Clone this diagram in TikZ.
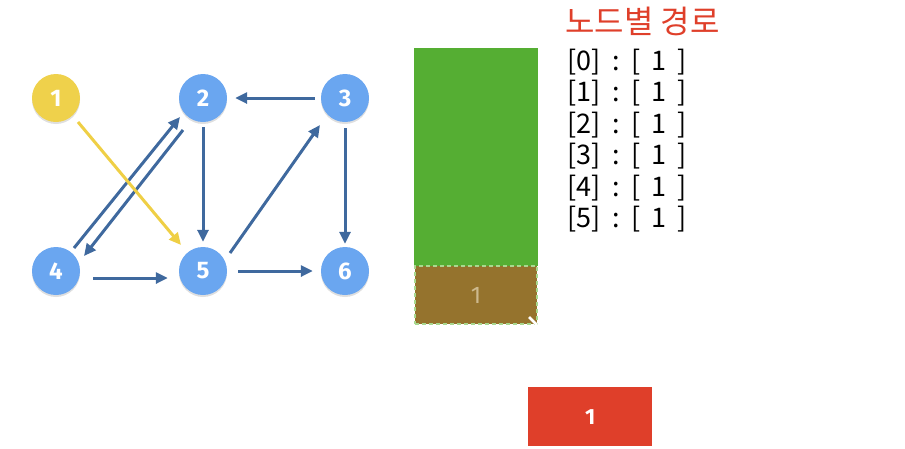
\documentclass[tikz,border=0pt]{standalone}
\usepackage{fontspec}
\setmainfont{Fira Sans}
\newfontfamily\kofont{Noto Sans CJK KR}
\usetikzlibrary{arrows.meta,shadows}
\definecolor{NodeBlue}{HTML}{6AA6F0}
\definecolor{NodeYellow}{HTML}{EFD14B}
\definecolor{EdgeBlue}{HTML}{3F699E}
\definecolor{EdgeYellow}{HTML}{EFCF45}
\definecolor{StackGreen}{HTML}{55AE33}
\definecolor{StackBrown}{HTML}{95732D}
\definecolor{StackDash}{HTML}{A9D88F}
\definecolor{StackText}{HTML}{CDB98E}
\definecolor{TitleRed}{HTML}{DF3F2A}

\begin{document}
\begin{tikzpicture}[
    x=1pt,y=-1pt,
    vertex/.style={circle,minimum size=48pt,inner sep=0pt,fill=NodeBlue,text=white,font=\fontsize{24}{24}\selectfont\bfseries,drop shadow={opacity=0.25,shadow xshift=0pt,shadow yshift=-2pt}},
    edge/.style={draw=EdgeBlue,line width=3pt,-{Triangle[length=12pt,width=11pt]}},
    pathline/.style={anchor=west,inner sep=0pt,font=\kofont\fontsize{27}{27}\selectfont}
  ]
    \useasboundingbox (0,0) rectangle (905,448);

    % graph
    \node[vertex,fill=NodeYellow] (n1) at (56,98) {1};
    \node[vertex] (n2) at (203,98) {2};
    \node[vertex] (n3) at (345,98) {3};
    \node[vertex] (n4) at (56,271) {4};
    \node[vertex] (n5) at (203,271) {5};
    \node[vertex] (n6) at (345,271) {6};

    \draw[edge,shorten <=6pt,shorten >=8pt] (n3) -- (n2);
    \draw[edge,shorten <=5pt,shorten >=5pt] (n2) -- (n5);
    \draw[edge,shorten <=6pt,shorten >=3pt] (n3) -- (n6);
    \draw[edge,shorten <=13pt,shorten >=11pt] ([yshift=-7pt]n4.east) -- ([yshift=-7pt]n5.west);
    \draw[edge,shorten <=11pt,shorten >=8pt] (n5) -- (n6);
    \draw[edge] ([shift={(27,-18)}]n5.center) -- ([shift={(-25,27)}]n3.center);
    \draw[edge] ([shift={(18,-23)}]n4.center) -- ([shift={(-23,19)}]n2.center);
    \draw[edge] ([shift={(-20,32)}]n2.center) -- ([shift={(28,-15)}]n4.center);
    \draw[edge,draw=EdgeYellow] ([shift={(22,24)}]n1.center) -- ([shift={(-22,-26)}]n5.center);

    % stack
    \fill[StackGreen] (414,48) rectangle (538,266);
    \node[draw=StackDash,fill=StackBrown,dash pattern=on 4pt off 3pt,line width=2.5pt,outer sep=0pt,
      minimum width=122pt,minimum height=58pt,anchor=north west,inner sep=0pt,
      text=StackText,font=\fontsize{24}{24}\selectfont] (top) at (415,266) {1};
    \draw[white,line width=2.5pt] (529,317) -- (537,325);

    % paths per node
    \node[pathline,text=TitleRed,font=\kofont\fontsize{32}{32}\selectfont] (title) at (565,21) {노드별 경로};
    \foreach \i in {0,...,5}
      \node[pathline] (path\i) at (567,{62+31.4*\i})
        {[\i]\hspace{12pt}:\hspace{12pt}[\hspace{10pt}1\hspace{11pt}]};

    % queue
    \node[fill=TitleRed,minimum width=124pt,minimum height=59pt,anchor=north west,inner sep=0pt,
      text=white,font=\fontsize{22}{22}\selectfont\bfseries] (result) at (528,387) {1};
  \end{tikzpicture}
\end{document}
